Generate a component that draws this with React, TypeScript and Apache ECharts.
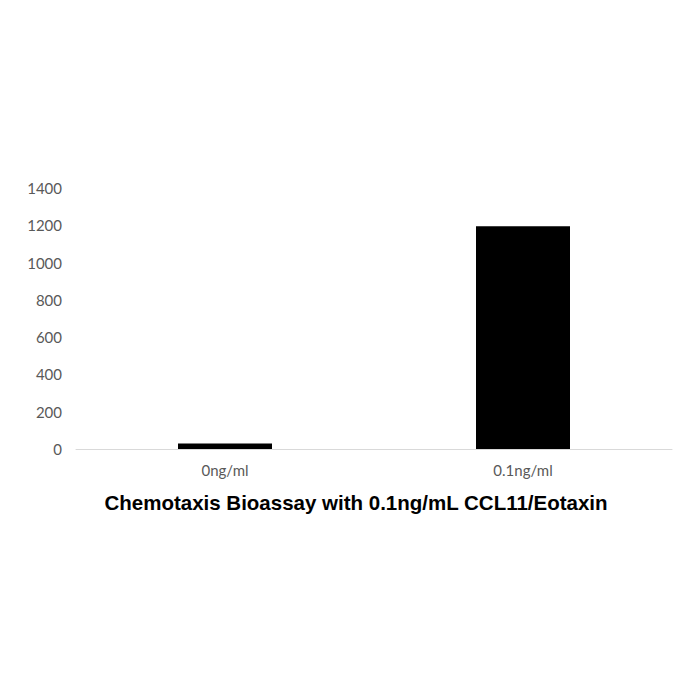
import { useEffect, useRef } from 'react'
import * as echarts from 'echarts'

// 数据
const categories = ['0ng/ml', '0.1ng/ml']
const values = [30, 1195]
const yTicks = { min: 0, max: 1400, interval: 200 }
const chartTitle = 'Chemotaxis Bioassay with 0.1ng/mL CCL11/Eotaxin'

export default function App() {
  const chartRef = useRef<HTMLDivElement>(null)

  useEffect(() => {
    if (!chartRef.current) return
    document.body.style.margin = '0'

    const chart = echarts.init(chartRef.current, null, { renderer: 'svg' })

    const option: echarts.EChartsOption = {
      animation: false,
      backgroundColor: '#fff',
      grid: { left: 76, right: 28, top: 188, bottom: 251 },
      xAxis: {
        type: 'category',
        data: categories,
        axisLine: { lineStyle: { color: '#d9d9d9', width: 1 } },
        axisTick: { show: false },
        axisLabel: { color: '#595959', fontSize: 15, fontFamily: 'Lato', margin: 13 }
      },
      yAxis: {
        type: 'value',
        min: yTicks.min,
        max: yTicks.max,
        interval: yTicks.interval,
        axisLine: { show: false },
        axisTick: { show: false },
        splitLine: { show: false },
        axisLabel: {
          color: '#595959',
          fontSize: 15,
          fontFamily: 'Lato',
          margin: 14,
          formatter: (v: number) => String(v)
        }
      },
      graphic: [
        {
          type: 'text',
          x: 356,
          y: 502,
          style: {
            text: chartTitle,
            fill: '#000',
            font: 'bold 20.5px "Liberation Sans"',
            textAlign: 'center',
            textVerticalAlign: 'middle'
          }
        }
      ],
      series: [
        {
          type: 'bar',
          data: values,
          barWidth: 94,
          itemStyle: { color: '#000' }
        }
      ]
    }

    chart.setOption(option)
    return () => {
      chart.dispose()
    }
  }, [])

  return <div ref={chartRef} style={{ width: 700, height: 700 }} />
}
